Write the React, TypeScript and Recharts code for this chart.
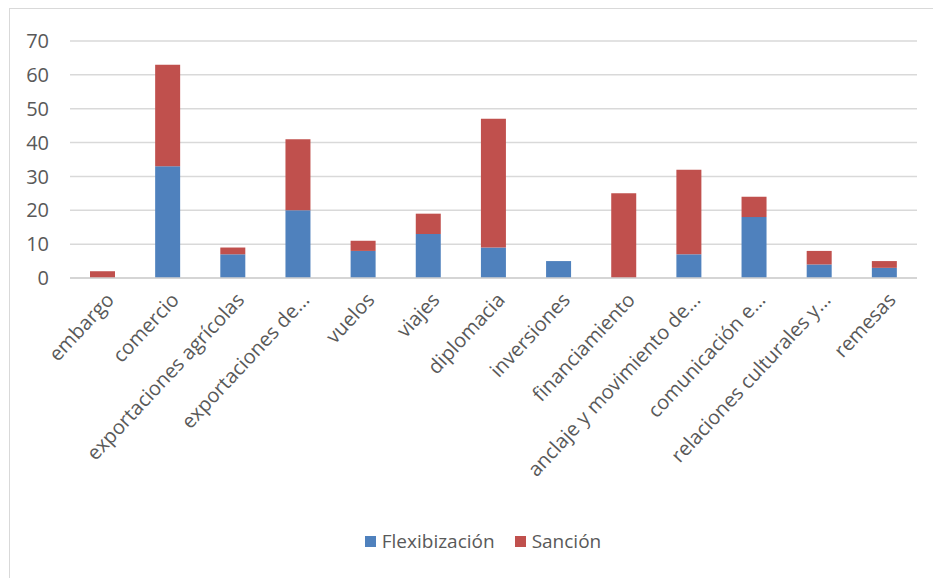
import { Bar, BarChart, CartesianGrid, XAxis, YAxis } from 'recharts'

const categories = [
  'embargo',
  'comercio',
  'exportaciones agrícolas',
  'exportaciones de...',
  'vuelos',
  'viajes',
  'diplomacia',
  'inversiones',
  'financiamiento',
  'anclaje y movimiento de...',
  'comunicación e...',
  'relaciones culturales y...',
  'remesas',
]
const flexibilizacion = [0, 33, 7, 20, 8, 13, 9, 5, 0, 7, 18, 4, 3]
const sancion = [2, 30, 2, 21, 3, 6, 38, 0, 25, 25, 6, 4, 2]
const yTicks = [0, 10, 20, 30, 40, 50, 60, 70]

const series = [
  { key: 'flex', name: 'Flexibización', color: '#4F81BD' },
  { key: 'sancion', name: 'Sanción', color: '#C0504D' },
]

const rows = categories.map((name, i) => ({
  name,
  flex: flexibilizacion[i],
  sancion: sancion[i],
}))

const FONT = '"Open Sans", "Noto Sans", sans-serif'
const TEXT = '#595959'

function CategoryTick({ x, y, payload }: any) {
  return (
    <text
      x={x + 2}
      y={y}
      transform={`rotate(-47, ${x + 2}, ${y})`}
      textAnchor="end"
      dy="0.72em"
      fill={TEXT}
      fontSize={20}
      fontFamily={FONT}
    >
      {payload.value}
    </text>
  )
}

export default function App() {
  return (
    <div
      style={{
        position: 'absolute',
        left: 0,
        top: 0,
        width: 933,
        height: 578,
        background: '#fff',
        overflow: 'hidden',
        fontFamily: FONT,
      }}
    >
      <div
        style={{
          position: 'absolute',
          left: 9,
          top: 8,
          width: 960,
          height: 600,
          border: '1.5px solid #d9d9d9',
        }}
      />
      <BarChart
        width={933}
        height={578}
        data={rows}
        margin={{ top: 41, right: 16, bottom: 0, left: 0 }}
        barSize={25}
        style={{ position: 'absolute', left: 0, top: 0 }}
      >
        <CartesianGrid stroke="#d9d9d9" strokeWidth={1.5} vertical={false} />
        <XAxis
          dataKey="name"
          interval={0}
          height={300}
          tick={<CategoryTick />}
          tickLine={false}
          tickMargin={7}
          axisLine={{ stroke: '#d0d0d0', strokeWidth: 1.5 }}
        />
        <YAxis
          domain={[0, 70]}
          ticks={yTicks}
          width={70}
          axisLine={false}
          tickLine={false}
          tickMargin={15}
          tick={{ fill: TEXT, fontSize: 20, fontFamily: FONT }}
        />
        {series.map((s) => (
          <Bar
            key={s.key}
            dataKey={s.key}
            name={s.name}
            stackId="a"
            fill={s.color}
            isAnimationActive={false}
          />
        ))}
      </BarChart>
      <div
        style={{
          position: 'absolute',
          top: 528,
          left: 0,
          width: 966,
          display: 'flex',
          justifyContent: 'center',
          gap: 20,
          color: TEXT,
          fontSize: 19,
          lineHeight: '26px',
        }}
      >
        {series.map((s) => (
          <div key={s.key} style={{ display: 'flex', alignItems: 'center', gap: 6 }}>
            <span style={{ width: 11, height: 11, background: s.color, display: 'inline-block' }} />
            <span>{s.name}</span>
          </div>
        ))}
      </div>
    </div>
  )
}
